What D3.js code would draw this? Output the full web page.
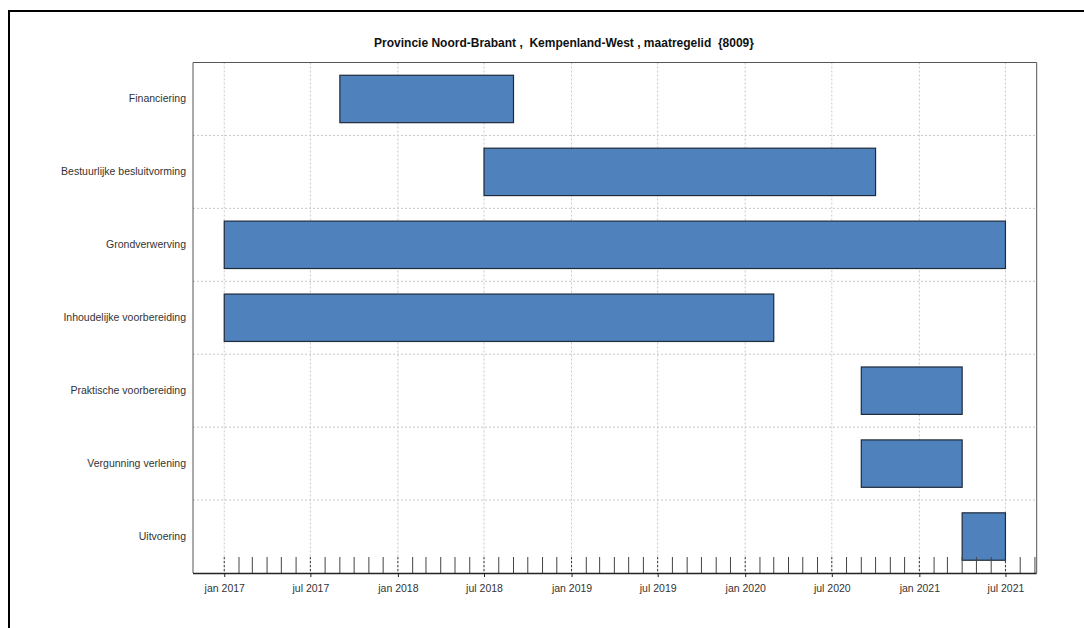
<!DOCTYPE html>
<html>
<head>
<meta charset="utf-8">
<script src="https://cdn.jsdelivr.net/npm/d3@7"></script>
<style>
  html, body { margin: 0; padding: 0; background: #fff; }
  svg { display: block; font-family: "Liberation Sans", Arial, sans-serif; }
</style>
</head>
<body>
<svg id="chart" width="1084" height="628"></svg>
<script>
// ---- data ----
const titleText = "Provincie Noord-Brabant ,  Kempenland-West , maatregelid  {8009}";
const categories = [
  "Financiering",
  "Bestuurlijke besluitvorming",
  "Grondverwerving",
  "Inhoudelijke voorbereiding",
  "Praktische voorbereiding",
  "Vergunning verlening",
  "Uitvoering"
];
const startDates = ["2017-09-01", "2018-07-01", "2017-01-01", "2017-01-01", "2020-09-01", "2020-09-01", "2021-04-01"];
const endDates   = ["2018-09-01", "2020-10-01", "2021-07-01", "2020-03-01", "2021-04-01", "2021-04-01", "2021-07-01"];
const tickLabels = ["jan 2017", "jul 2017", "jan 2018", "jul 2018", "jan 2019", "jul 2019", "jan 2020", "jul 2020", "jan 2021", "jul 2021"];

// ---- layout ----
const svg = d3.select("#chart");
const W = 1084, H = 628;
const plot = { left: 193, right: 1036.7, top: 62.5, bottom: 573 };

const parse = d3.utcParse("%Y-%m-%d");
const tasks = categories.map((c, i) => ({ cat: c, start: parse(startDates[i]), end: parse(endDates[i]) }));

const minD = d3.min(tasks, d => d.start), maxD = d3.max(tasks, d => d.end);
const pad = (maxD - minD) * 0.04;
const x = d3.scaleUtc()
  .domain([new Date(+minD - pad), new Date(+maxD + pad)])
  .range([plot.left, plot.right]);
const y = d3.scaleBand()
  .domain(categories)
  .range([plot.top, plot.bottom])
  .paddingInner(0.35)
  .paddingOuter(0.175);

// outer border (top + left)
svg.append("path")
  .attr("d", `M9,${H} L9,11 L${W},11`)
  .attr("fill", "none").attr("stroke", "#000").attr("stroke-width", 2);

// title
svg.append("text")
  .attr("x", 564).attr("y", 47)
  .attr("text-anchor", "middle")
  .style("white-space", "pre")
  .attr("xml:space", "preserve")
  .attr("font-size", 12).attr("font-weight", "bold").attr("fill", "#111")
  .text(titleText);

// major (jan/jul) dates
const majorTicks = x.ticks(d3.utcMonth.every(6)).filter(d => d >= minD && d <= maxD);
const minorTicks = x.ticks(d3.utcMonth.every(1)).filter(d => d >= minD);

const g = svg.append("g");

// vertical dotted grid
g.selectAll("line.vgrid").data(majorTicks).join("line")
  .attr("class", "vgrid")
  .attr("x1", d => x(d)).attr("x2", d => x(d))
  .attr("y1", plot.top).attr("y2", plot.bottom)
  .attr("stroke", "#c8c8c8").attr("stroke-width", 1).attr("stroke-dasharray", "2,2");

// horizontal dotted separators between rows
const step = y.step();
const seps = categories.slice(1).map(c => y(c) - step * 0.175);
g.selectAll("line.hgrid").data(seps).join("line")
  .attr("class", "hgrid")
  .attr("x1", plot.left).attr("x2", plot.right)
  .attr("y1", d => d).attr("y2", d => d)
  .attr("stroke", "#c8c8c8").attr("stroke-width", 1).attr("stroke-dasharray", "2,2");

// bars
g.selectAll("rect.bar").data(tasks).join("rect")
  .attr("class", "bar")
  .attr("x", d => x(d.start))
  .attr("y", d => y(d.cat))
  .attr("width", d => x(d.end) - x(d.start))
  .attr("height", y.bandwidth())
  .attr("fill", "#4F81BD")
  .attr("stroke", "#1f2a3a").attr("stroke-width", 1.2);

// minor monthly ticks (inward)
const minorOnly = minorTicks.filter(d => d.getUTCMonth() % 6 !== 0);
g.selectAll("line.minor").data(minorOnly).join("line")
  .attr("class", "minor")
  .attr("x1", d => x(d)).attr("x2", d => x(d))
  .attr("y1", plot.bottom - 16).attr("y2", plot.bottom)
  .attr("stroke", "#444").attr("stroke-width", 1);

// major dotted inward tick emphasis
g.selectAll("line.majin").data(majorTicks).join("line")
  .attr("class", "majin")
  .attr("x1", d => x(d)).attr("x2", d => x(d))
  .attr("y1", plot.bottom - 16).attr("y2", plot.bottom)
  .attr("stroke", "#333").attr("stroke-width", 1).attr("stroke-dasharray", "2,2");

// frame (top, left, right)
svg.append("path")
  .attr("d", `M${plot.left},${plot.bottom} L${plot.left},${plot.top} L${plot.right},${plot.top} L${plot.right},${plot.bottom}`)
  .attr("fill", "none").attr("stroke", "#555").attr("stroke-width", 1);

// x axis
const xAxis = d3.axisBottom(x)
  .tickValues(majorTicks)
  .tickSize(4)
  .tickPadding(8)
  .tickFormat((d, i) => tickLabels[i]);
const ax = svg.append("g")
  .attr("transform", `translate(0,${plot.bottom})`)
  .call(xAxis);
ax.select(".domain").attr("stroke", "#222").attr("stroke-width", 1.3)
  .attr("d", `M${plot.left},0.5H${plot.right}`);
ax.selectAll(".tick line").attr("stroke", "#222");
ax.selectAll(".tick text")
  .attr("font-family", "'Liberation Sans', Arial, sans-serif")
  .attr("font-size", 10.5).attr("fill", "#333");

// y labels
const yAxis = d3.axisLeft(y).tickSize(0).tickPadding(7);
const ay = svg.append("g")
  .attr("transform", `translate(${plot.left},0)`)
  .call(yAxis);
ay.select(".domain").remove();
ay.selectAll(".tick text")
  .attr("font-family", "'Liberation Sans', Arial, sans-serif")
  .attr("font-size", 10.5).attr("fill", "#333");
</script>
</body>
</html>
